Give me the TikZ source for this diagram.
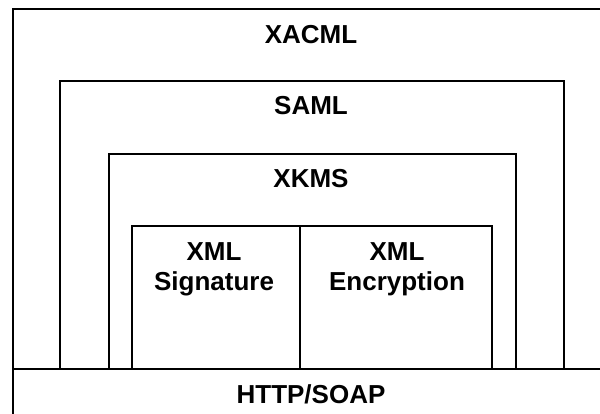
\documentclass[tikz,border=0pt]{standalone}
\usepackage{fontspec}
\setmainfont{Liberation Sans}
\begin{document}
\begin{tikzpicture}[x=1pt,y=1pt,
  layer/.style={draw=black, line width=1.8pt, rectangle, inner sep=0pt, anchor=north west},
  lbl/.style={font=\fontsize{26}{30}\selectfont\bfseries, align=center, inner sep=0pt}]
\useasboundingbox (0,0) rectangle (600,-413);
\fill[white] (0,0) rectangle (600,-413);
\clip (0,0) rectangle (600,-413);
% boxes
\node[layer, minimum width=620pt, minimum height=440pt] (xacml) at (12,-8) {};
\node[layer, minimum width=620pt, minimum height=80pt] (http) at (12,-368) {};
\node[layer, minimum width=504pt, minimum height=288pt] (saml) at (59,-80) {};
\node[layer, minimum width=407pt, minimum height=215pt] (xkms) at (108,-153) {};
\node[layer, minimum width=168pt, minimum height=143pt] (sig) at (131,-225) {};
\node[layer, minimum width=192pt, minimum height=143pt] (enc) at (299,-225) {};
% labels
\node[lbl] (xacmlt) at (311,-35) {XACML};
\node[lbl] (samlt) at (311,-106) {SAML};
\node[lbl] (xkmst) at (311,-179) {XKMS};
\node[lbl] (sigt) at (214,-269) {XML\\Signature};
\node[lbl] (enct) at (397,-269) {XML\\Encryption};
\node[lbl] (httpt) at (311,-394) {HTTP/SOAP};
\end{tikzpicture}
\end{document}
